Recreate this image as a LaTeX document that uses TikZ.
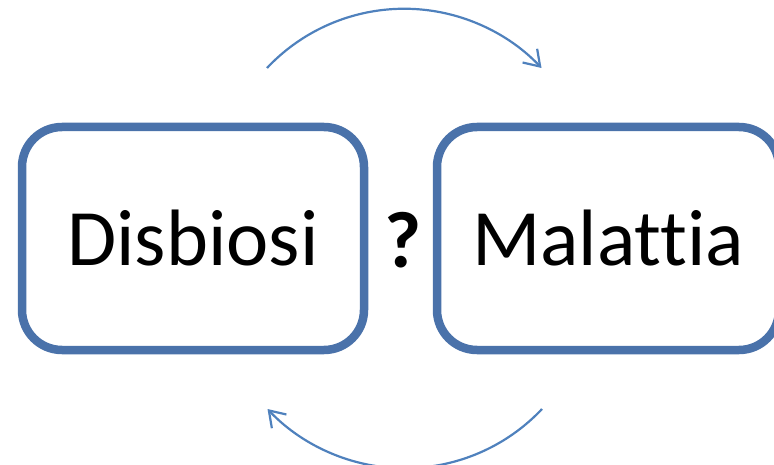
\documentclass[tikz,border=0pt]{standalone}
\usepackage{fontspec}
\setmainfont[Ligatures=NoCommon]{Carlito}
\usetikzlibrary{arrows.meta,shadows}
\definecolor{boxblue}{HTML}{4A72AA}
\definecolor{arcblue}{HTML}{4F81BD}
\tikzset{
  bigbox/.style={draw=boxblue, line width=8.5pt, fill=white, rounded corners=40pt,
    minimum width=342pt, minimum height=223pt, inner sep=0pt,
    font=\fontsize{80}{96}\selectfont,
    drop shadow={opacity=0.25, shadow xshift=2pt, shadow yshift=-3pt}},
  cyclearc/.style={draw=arcblue, line width=2.2pt, -{Straight Barb[length=15pt,width=20pt,line width=2.2pt]}}
}
\begin{document}
\begin{tikzpicture}[x=1pt,y=1pt]
\useasboundingbox (0,0) rectangle (774,-465);
\node[bigbox] (dis) at (193,-238.5) {Disbiosi};
\node[bigbox] (mal) at (608,-238.5) {Malattia};
\node[font=\bfseries\fontsize{80}{96}\selectfont, inner sep=0pt] (q) at (403,-240) {?};
\coordinate (t1) at (267,-68);
\coordinate (b1) at (542,-409);
\draw[cyclearc] (t1) arc[start angle=136.7, end angle=43.3, radius=188.6];
\draw[cyclearc] (b1) arc[start angle=-43.3, end angle=-136.7, radius=188.6];
\end{tikzpicture}
\end{document}
